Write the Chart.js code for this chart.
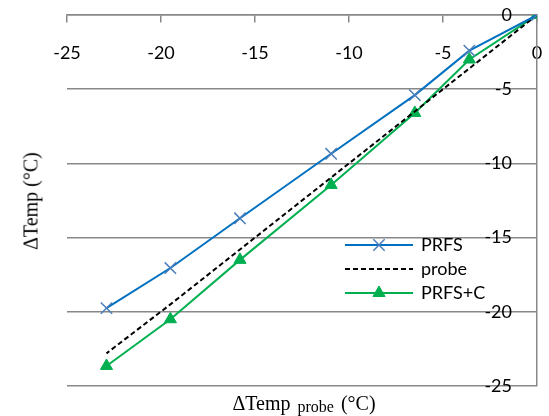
<!DOCTYPE html>
<html lang="en">
<head>
    <meta charset="UTF-8">
    <title>PRFS vs probe</title>
    <script src="https://cdn.jsdelivr.net/npm/chart.js"></script>
    <style>
        * {
            margin: 0;
            padding: 0;
            box-sizing: border-box;
        }

        body {
            background-color: #fff;
            width: 549px;
            height: 416px;
            overflow: hidden;
        }

        .chart-container {
            position: relative;
            width: 549px;
            height: 416px;
        }

        .axis-title {
            position: absolute;
            font-family: 'Liberation Serif', 'Times New Roman', serif;
            font-size: 20px;
            color: #000;
            white-space: nowrap;
        }

        .y-title {
            left: 31px;
            top: 201px;
            transform: translate(-50%, -50%) rotate(-90deg);
        }

        .x-title {
            left: 304px;
            top: 404px;
            transform: translate(-50%, -50%);
        }

        .x-title sub {
            font-size: 16px;
            vertical-align: -2px;
            margin: 0 2px;
        }
    </style>
</head>
<body>
    <div class="chart-container">
        <canvas id="tempChart"></canvas>
        <div class="axis-title y-title">ΔTemp (°C)</div>
        <div class="axis-title x-title">ΔTemp <sub>probe</sub> (°C)</div>
    </div>

    <script>
        // values
        const probeTemp = [0, -3.6, -6.5, -10.95, -15.8, -19.5, -22.9];
        const prfs = [0, -2.4, -5.4, -9.35, -13.7, -17.05, -19.75];
        const probe = [0, -3.6, -6.5, -10.95, -15.8, -19.5, -22.8];
        const prfsC = [0, -3.0, -6.6, -11.45, -16.5, -20.5, -23.65];
        const axisTicks = [-25, -20, -15, -10, -5, 0];

        const tickFont = { family: 'Lato', size: 18 };
        const gray = '#888888';

        function pairs(ys) {
            return probeTemp.map((x, i) => ({ x: x, y: ys[i] }));
        }

        // scales should not push the plot area around
        function noSpace(s) {
            s.paddingTop = s.paddingBottom = s.paddingLeft = s.paddingRight = 0;
            if (s.isHorizontal()) s.height = 0; else s.width = 0;
        }

        // legend drawn inside the plot, line + marker like the original
        const insideLegend = {
            id: 'insideLegend',
            afterDraw(chart) {
                const ctx = chart.ctx;
                const x0 = 345, x1 = 413, tx = 421, y0 = 245, dy = 24;
                chart.data.datasets.forEach((ds, i) => {
                    const y = y0 + i * dy;
                    ctx.save();
                    ctx.strokeStyle = ds.borderColor;
                    ctx.lineWidth = ds.borderWidth;
                    ctx.setLineDash(ds.borderDash || []);
                    ctx.beginPath();
                    ctx.moveTo(x0, y);
                    ctx.lineTo(x1, y);
                    ctx.stroke();
                    ctx.setLineDash([]);
                    if (ds.pointRadius > 0) {
                        ctx.fillStyle = ds.pointBackgroundColor;
                        ctx.strokeStyle = ds.pointBorderColor;
                        ctx.lineWidth = ds.pointBorderWidth;
                        Chart.helpers.drawPoint(ctx, {
                            pointStyle: ds.pointStyle,
                            radius: ds.pointRadius,
                            borderWidth: ds.pointBorderWidth,
                            rotation: 0
                        }, (x0 + x1) / 2, y);
                    }
                    ctx.fillStyle = '#000';
                    ctx.font = '18px Lato';
                    ctx.textBaseline = 'middle';
                    ctx.fillText(ds.label, tx, y);
                    ctx.restore();
                });
            }
        };

        const ctx = document.getElementById('tempChart').getContext('2d');

        new Chart(ctx, {
            type: 'line',
            data: {
                datasets: [{
                    label: 'PRFS',
                    data: pairs(prfs),
                    borderColor: '#0070c0',
                    borderWidth: 2,
                    pointStyle: 'crossRot',
                    pointRadius: 8,
                    pointBorderWidth: 1.5,
                    pointBorderColor: '#4a7ebb',
                    pointBackgroundColor: '#4a7ebb',
                    tension: 0
                }, {
                    label: 'probe',
                    data: pairs(probe),
                    borderColor: '#000',
                    borderWidth: 2,
                    borderDash: [5, 3],
                    pointRadius: 0,
                    tension: 0
                }, {
                    label: 'PRFS+C',
                    data: pairs(prfsC),
                    borderColor: '#00b050',
                    borderWidth: 2,
                    pointStyle: 'triangle',
                    pointRadius: 7,
                    pointBorderWidth: 1,
                    pointBorderColor: '#00b050',
                    pointBackgroundColor: '#00b050',
                    tension: 0
                }]
            },
            options: {
                responsive: true,
                maintainAspectRatio: false,
                animation: false,
                layout: {
                    padding: { left: 67, right: 12, top: 15, bottom: 30 }
                },
                scales: {
                    x: {
                        type: 'linear',
                        position: { y: 0 },
                        min: -25,
                        max: 0,
                        afterBuildTicks: s => { s.ticks = axisTicks.map(v => ({ value: v })); },
                        afterFit: noSpace,
                        grid: {
                            drawOnChartArea: false,
                            drawTicks: true,
                            tickLength: 7,
                            color: gray,
                            lineWidth: 1.5
                        },
                        border: { color: gray, width: 1.5 },
                        ticks: {
                            padding: 20,
                            maxRotation: 0,
                            font: tickFont,
                            color: '#000'
                        }
                    },
                    y: {
                        type: 'linear',
                        position: 'right',
                        min: -25,
                        max: 0,
                        afterBuildTicks: s => { s.ticks = axisTicks.map(v => ({ value: v })); },
                        afterFit: noSpace,
                        grid: {
                            color: gray,
                            lineWidth: 1.5,
                            drawTicks: false
                        },
                        border: { color: gray, width: 1.5 },
                        ticks: {
                            mirror: true,
                            padding: -25,
                            font: tickFont,
                            color: '#000'
                        }
                    }
                },
                plugins: {
                    legend: { display: false },
                    tooltip: { enabled: false }
                }
            },
            plugins: [insideLegend]
        });
    </script>
</body>
</html>
